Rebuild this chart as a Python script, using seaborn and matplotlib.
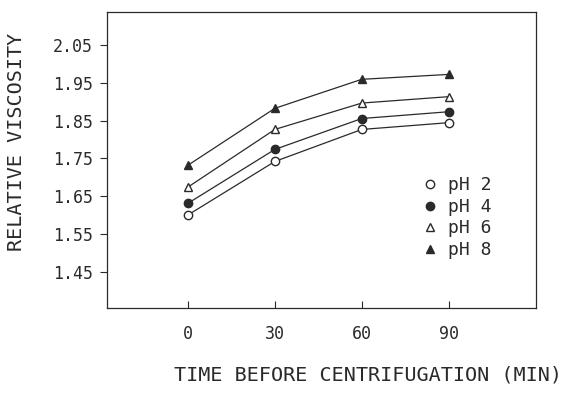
import matplotlib
matplotlib.use("Agg")
import matplotlib.pyplot as plt
import seaborn as sns
import pandas as pd
from matplotlib.lines import Line2D

times = [0, 30, 60, 90]
series_labels = ["pH 2", "pH 4", "pH 6", "pH 8"]
ph2 = [1.600, 1.742, 1.827, 1.845]
ph4 = [1.631, 1.774, 1.856, 1.874]
ph6 = [1.674, 1.827, 1.897, 1.914]
ph8 = [1.732, 1.883, 1.960, 1.973]
yticks = [1.45, 1.55, 1.65, 1.75, 1.85, 1.95, 2.05]
xticks = [0, 30, 60, 90]

sns.set_theme(style="white")
plt.rcParams['font.family'] = ['DejaVu Sans Mono']

fig = plt.figure(figsize=(5.68, 3.95), dpi=100)
ax = fig.add_axes([0.188, 0.22, 0.755, 0.75])

ink = "#2a2a2a"
styles = [("o", "white"), ("o", ink), ("^", "white"), ("^", ink)]
for lab, vals, (m, fc) in zip(series_labels, [ph2, ph4, ph6, ph8], styles):
    df = pd.DataFrame({"t": times, "v": vals})
    sns.lineplot(data=df, x="t", y="v", ax=ax, color=ink, lw=0.9,
                 marker=m, markersize=6, markerfacecolor=fc,
                 markeredgecolor=ink, markeredgewidth=1.0)

ax.set_xlim(-28, 120)
ax.set_ylim(1.353, 2.139)
ax.set_xticks(xticks)
ax.set_xticklabels([str(t) for t in xticks])
ax.set_yticks(yticks)
ax.set_yticklabels([f"{y:.2f}" for y in yticks])
ax.tick_params(axis="y", direction="out", length=5, width=0.8, color=ink,
               labelsize=12, labelcolor=ink, pad=5, left=True)
ax.tick_params(axis="x", direction="in", length=5, width=0.8, color=ink,
               labelsize=12, labelcolor=ink, pad=12, bottom=True)
for s in ax.spines.values():
    s.set_color(ink)
    s.set_linewidth(0.9)

ax.set_xlabel("TIME BEFORE CENTRIFUGATION (MIN)", fontsize=14.5, color=ink)
ax.set_ylabel("RELATIVE VISCOSITY", fontsize=14.5, color=ink)
ax.xaxis.set_label_coords(0.608, -0.195)
ax.yaxis.set_label_coords(-0.188, 0.56)

handles = [Line2D([], [], ls="none", marker=m, markersize=6, markerfacecolor=fc,
                  markeredgecolor=ink, markeredgewidth=1.0) for m, fc in styles]
leg = ax.legend(handles, series_labels, loc="upper left", bbox_to_anchor=(0.70, 0.50),
                frameon=False, fontsize=13, handlelength=0.8, handletextpad=0.6,
                labelspacing=0.2, labelcolor=ink)

fig.savefig("out.png", dpi=100, facecolor="white")
